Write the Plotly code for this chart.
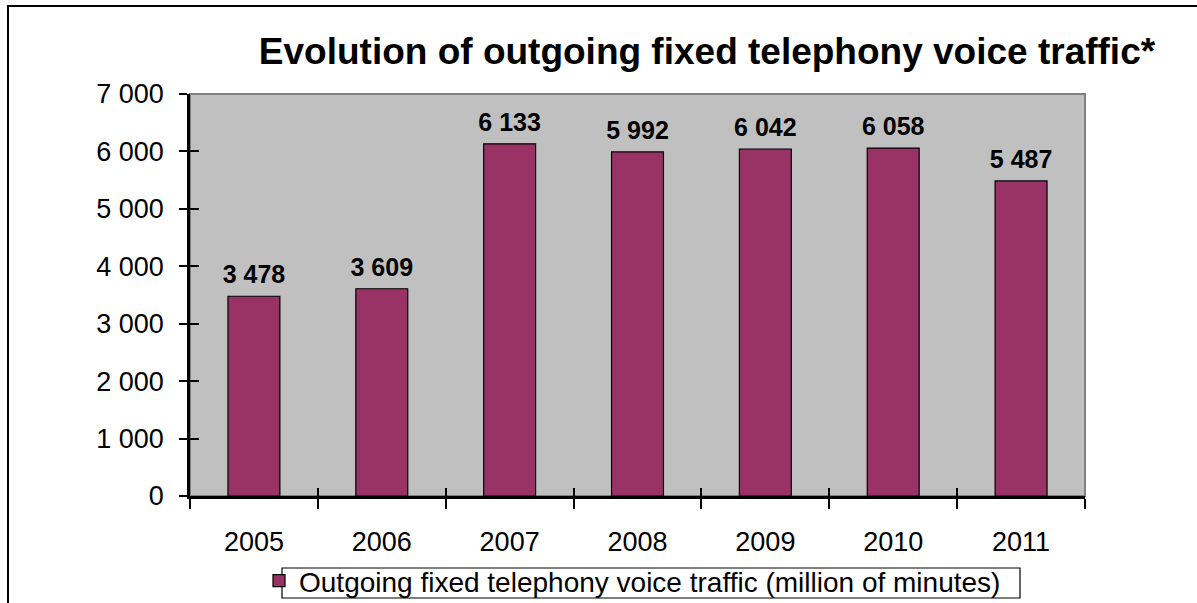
import plotly.graph_objects as go

# Outgoing fixed telephony voice traffic, million of minutes
years = ["2005", "2006", "2007", "2008", "2009", "2010", "2011"]
traffic = [3478, 3609, 6133, 5992, 6042, 6058, 5487]
y_ticks = [0, 1000, 2000, 3000, 4000, 5000, 6000, 7000]

W, H = 1197, 603
L, R, T, B = 190, 112, 94, 107
plot_w = W - L - R
plot_h = H - T - B

FONT = "Liberation Sans, Arial, sans-serif"
BAR = "#993366"


def spaced(v):
    return f"{v:,}".replace(",", " ")


def px_x(p):
    return (p - L) / plot_w


def px_y(p):
    return ((H - B) - p) / plot_h


fig = go.Figure()
fig.add_trace(go.Bar(
    x=years, y=traffic,
    name="Outgoing fixed telephony voice traffic (million of minutes)",
    marker=dict(color=BAR, line=dict(color="black", width=1.2)),
    hoverinfo="x+y",
))
# value labels above each bar (the invisible marker sets the gap)
fig.add_trace(go.Scatter(
    x=years, y=traffic, mode="markers+text",
    text=[spaced(v) for v in traffic], texttemplate="<b>%{text}</b>",
    textposition="top center",
    textfont=dict(family=FONT, size=25, color="black"),
    marker=dict(size=9, opacity=0), cliponaxis=False,
    showlegend=False, hoverinfo="skip",
))
# helper trace so the overlay axes (inner tick marks) get drawn
fig.add_trace(go.Scatter(x=[0], y=[0], xaxis="x2", yaxis="y2", mode="markers",
                         marker=dict(opacity=0), showlegend=False, hoverinfo="skip"))

fig.update_layout(
    width=W, height=H,
    margin=dict(l=L, r=R, t=T, b=B, autoexpand=False),
    paper_bgcolor="white",
    plot_bgcolor="#C0C0C0",
    bargap=0.594,
    separators=". ",
    font=dict(family=FONT, color="black"),
    title=dict(
        text="<b>Evolution of outgoing fixed telephony voice traffic*</b>",
        x=707 / W, xref="container", xanchor="center",
        y=1 - 51 / H, yref="container", yanchor="middle",
        font=dict(family=FONT, size=37, color="black"),
    ),
    xaxis=dict(
        type="category", tickson="boundaries", ticks="outside", ticklen=10,
        tickwidth=1.5, tickcolor="black",
        showline=True, linecolor="black", linewidth=2.5,
        showgrid=False, zeroline=False,
        tickfont=dict(family=FONT, size=27, color="black"),
        ticklabelstandoff=20,
        range=[-0.5, 6.5],
    ),
    yaxis=dict(
        range=[0, 7000], tickvals=y_ticks, tickformat=",",
        ticks="outside", ticklen=8, tickwidth=1.5, tickcolor="black",
        showline=True, linecolor="black", linewidth=2.5,
        showgrid=False, zeroline=False,
        tickfont=dict(family=FONT, size=27, color="black"),
        ticklabelstandoff=10,
    ),
    xaxis2=dict(
        overlaying="x", range=[-0.5, 6.5], tickvals=[i - 0.5 for i in range(8)],
        ticks="inside", ticklen=8, tickwidth=1.5, tickcolor="black",
        showticklabels=False, showgrid=False, zeroline=False, showline=False,
    ),
    yaxis2=dict(
        overlaying="y", range=[0, 7000], tickvals=y_ticks,
        ticks="inside", ticklen=9, tickwidth=1.5, tickcolor="black",
        showticklabels=False, showgrid=False, zeroline=False, showline=False,
    ),
    showlegend=True,
    legend=dict(
        x=px_x(259), xanchor="left",
        y=px_y(556), yanchor="top",
        orientation="h",
        bgcolor="rgba(0,0,0,0)", borderwidth=0,
        font=dict(family=FONT, size=28, color="black"),
        itemwidth=30,
    ),
    shapes=[
        # gray frame of the plotting area (top and right edges)
        dict(type="rect", xref="paper", yref="paper", x0=0, x1=1, y0=0, y1=1,
             line=dict(color="#808080", width=2), layer="below"),
        # outer chart border
        dict(type="rect", xref="paper", yref="paper",
             x0=px_x(8), x1=px_x(W + 20), y0=px_y(H + 20), y1=px_y(6),
             line=dict(color="black", width=2), layer="below"),
        # legend box
        dict(type="rect", xref="paper", yref="paper",
             x0=px_x(282), x1=px_x(1020), y0=px_y(598), y1=px_y(568),
             line=dict(color="black", width=1.2), fillcolor="white", layer="below"),
    ],
)

fig.write_html("out.html")
